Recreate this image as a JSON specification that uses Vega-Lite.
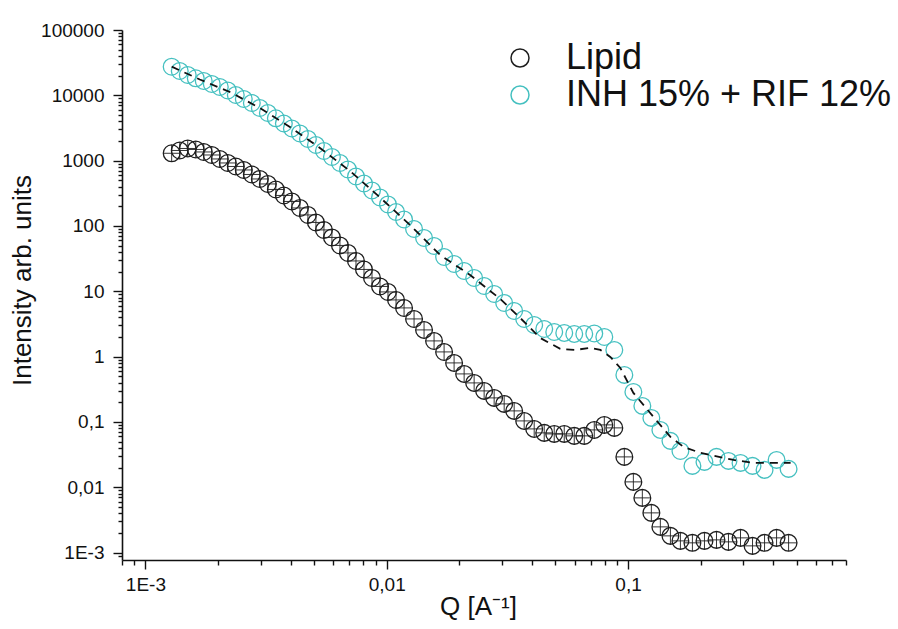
{
  "$schema": "https://vega.github.io/schema/vega-lite/v6.json",
  "width": 724,
  "height": 530,
  "autosize": {"type": "none"},
  "padding": {"left": 122, "top": 30, "right": 52, "bottom": 69},
  "background": "white",
  "config": {
    "view": {"stroke": null},
    "font": "Liberation Sans",
    "axis": {"domainColor": "#111", "domainWidth": 1.6, "tickColor": "#111", "tickWidth": 1.4, "grid": false, "labelColor": "#111", "titleColor": "#111", "labelFont": "Liberation Sans", "titleFont": "Liberation Sans", "titleFontWeight": "normal"}
  },
  "datasets": {
    "pts": [
      {"q":0.001285,"I":1297,"s":"Lipid"},{"q":0.001388,"I":1431,"s":"Lipid"},{"q":0.001498,"I":1536,"s":"Lipid"},{"q":0.001617,"I":1483,"s":"Lipid"},{"q":0.001745,"I":1358,"s":"Lipid"},{"q":0.001884,"I":1221,"s":"Lipid"},{"q":0.002034,"I":1061,"s":"Lipid"},{"q":0.002195,"I":921.5,"s":"Lipid"},{"q":0.002369,"I":814.6,"s":"Lipid"},{"q":0.002557,"I":720.2,"s":"Lipid"},{"q":0.002761,"I":614.4,"s":"Lipid"},{"q":0.00298,"I":524.3,"s":"Lipid"},{"q":0.003217,"I":439.7,"s":"Lipid"},{"q":0.003472,"I":362.2,"s":"Lipid"},{"q":0.003748,"I":293.2,"s":"Lipid"},{"q":0.004046,"I":237.3,"s":"Lipid"},{"q":0.004368,"I":188.7,"s":"Lipid"},{"q":0.004715,"I":147.5,"s":"Lipid"},{"q":0.005089,"I":113.2,"s":"Lipid"},{"q":0.005494,"I":86.95,"s":"Lipid"},{"q":0.005929,"I":66.73,"s":"Lipid"},{"q":0.0064,"I":50.33,"s":"Lipid"},{"q":0.006909,"I":38.65,"s":"Lipid"},{"q":0.007458,"I":29.15,"s":"Lipid"},{"q":0.00805,"I":21.61,"s":"Lipid"},{"q":0.00869,"I":16.01,"s":"Lipid"},{"q":0.00938,"I":11.87,"s":"Lipid"},{"q":0.01012,"I":9.777,"s":"Lipid"},{"q":0.01093,"I":7.377,"s":"Lipid"},{"q":0.0118,"I":5.565,"s":"Lipid"},{"q":0.01298,"I":3.776,"s":"Lipid"},{"q":0.01428,"I":2.563,"s":"Lipid"},{"q":0.01571,"I":1.739,"s":"Lipid"},{"q":0.01729,"I":1.18,"s":"Lipid"},{"q":0.01902,"I":0.801,"s":"Lipid"},{"q":0.02093,"I":0.5435,"s":"Lipid"},{"q":0.02303,"I":0.3957,"s":"Lipid"},{"q":0.02533,"I":0.2987,"s":"Lipid"},{"q":0.02787,"I":0.2333,"s":"Lipid"},{"q":0.03067,"I":0.1889,"s":"Lipid"},{"q":0.03374,"I":0.1476,"s":"Lipid"},{"q":0.03712,"I":0.1037,"s":"Lipid"},{"q":0.04084,"I":0.0782,"s":"Lipid"},{"q":0.04494,"I":0.068,"s":"Lipid"},{"q":0.04944,"I":0.0656,"s":"Lipid"},{"q":0.0544,"I":0.0656,"s":"Lipid"},{"q":0.05985,"I":0.0612,"s":"Lipid"},{"q":0.06585,"I":0.0612,"s":"Lipid"},{"q":0.07245,"I":0.0755,"s":"Lipid"},{"q":0.07972,"I":0.0901,"s":"Lipid"},{"q":0.08771,"I":0.0811,"s":"Lipid"},{"q":0.09652,"I":0.02917,"s":"Lipid"},{"q":0.1052,"I":0.01209,"s":"Lipid"},{"q":0.1146,"I":0.006879,"s":"Lipid"},{"q":0.1249,"I":0.004053,"s":"Lipid"},{"q":0.1361,"I":0.002475,"s":"Lipid"},{"q":0.1498,"I":0.001803,"s":"Lipid"},{"q":0.1648,"I":0.001511,"s":"Lipid"},{"q":0.1848,"I":0.001409,"s":"Lipid"},{"q":0.2073,"I":0.001511,"s":"Lipid"},{"q":0.2325,"I":0.001565,"s":"Lipid"},{"q":0.2607,"I":0.001459,"s":"Lipid"},{"q":0.2924,"I":0.00168,"s":"Lipid"},{"q":0.3279,"I":0.001267,"s":"Lipid"},{"q":0.3678,"I":0.001409,"s":"Lipid"},{"q":0.4125,"I":0.00168,"s":"Lipid"},{"q":0.4626,"I":0.001409,"s":"Lipid"},
      {"q":0.001285,"I":27440,"s":"INH 15% + RIF 12%"},{"q":0.001388,"I":23580,"s":"INH 15% + RIF 12%"},{"q":0.001498,"I":20480,"s":"INH 15% + RIF 12%"},{"q":0.001617,"I":18230,"s":"INH 15% + RIF 12%"},{"q":0.001745,"I":16580,"s":"INH 15% + RIF 12%"},{"q":0.001884,"I":14910,"s":"INH 15% + RIF 12%"},{"q":0.002034,"I":13420,"s":"INH 15% + RIF 12%"},{"q":0.002195,"I":11860,"s":"INH 15% + RIF 12%"},{"q":0.002369,"I":10120,"s":"INH 15% + RIF 12%"},{"q":0.002557,"I":8790,"s":"INH 15% + RIF 12%"},{"q":0.002761,"I":7635,"s":"INH 15% + RIF 12%"},{"q":0.00298,"I":6401,"s":"INH 15% + RIF 12%"},{"q":0.003217,"I":5366,"s":"INH 15% + RIF 12%"},{"q":0.003472,"I":4453,"s":"INH 15% + RIF 12%"},{"q":0.003748,"I":3707,"s":"INH 15% + RIF 12%"},{"q":0.004046,"I":3108,"s":"INH 15% + RIF 12%"},{"q":0.004368,"I":2606,"s":"INH 15% + RIF 12%"},{"q":0.004715,"I":2147,"s":"INH 15% + RIF 12%"},{"q":0.005089,"I":1738,"s":"INH 15% + RIF 12%"},{"q":0.005494,"I":1407,"s":"INH 15% + RIF 12%"},{"q":0.005929,"I":1138,"s":"INH 15% + RIF 12%"},{"q":0.0064,"I":921.5,"s":"INH 15% + RIF 12%"},{"q":0.006909,"I":732.8,"s":"INH 15% + RIF 12%"},{"q":0.007458,"I":572.8,"s":"INH 15% + RIF 12%"},{"q":0.00805,"I":447.5,"s":"INH 15% + RIF 12%"},{"q":0.00869,"I":349.6,"s":"INH 15% + RIF 12%"},{"q":0.00938,"I":273.3,"s":"INH 15% + RIF 12%"},{"q":0.01012,"I":213.4,"s":"INH 15% + RIF 12%"},{"q":0.01093,"I":163.9,"s":"INH 15% + RIF 12%"},{"q":0.0118,"I":125.8,"s":"INH 15% + RIF 12%"},{"q":0.01298,"I":90.03,"s":"INH 15% + RIF 12%"},{"q":0.01428,"I":65.58,"s":"INH 15% + RIF 12%"},{"q":0.01571,"I":49.45,"s":"INH 15% + RIF 12%"},{"q":0.01729,"I":33.57,"s":"INH 15% + RIF 12%"},{"q":0.01902,"I":26.22,"s":"INH 15% + RIF 12%"},{"q":0.02093,"I":20.49,"s":"INH 15% + RIF 12%"},{"q":0.02303,"I":16.01,"s":"INH 15% + RIF 12%"},{"q":0.02533,"I":12.08,"s":"INH 15% + RIF 12%"},{"q":0.02787,"I":9.112,"s":"INH 15% + RIF 12%"},{"q":0.03067,"I":6.636,"s":"INH 15% + RIF 12%"},{"q":0.03374,"I":5.004,"s":"INH 15% + RIF 12%"},{"q":0.03712,"I":3.776,"s":"INH 15% + RIF 12%"},{"q":0.04084,"I":3.056,"s":"INH 15% + RIF 12%"},{"q":0.04494,"I":2.654,"s":"INH 15% + RIF 12%"},{"q":0.04944,"I":2.388,"s":"INH 15% + RIF 12%"},{"q":0.0544,"I":2.306,"s":"INH 15% + RIF 12%"},{"q":0.05985,"I":2.226,"s":"INH 15% + RIF 12%"},{"q":0.06585,"I":2.226,"s":"INH 15% + RIF 12%"},{"q":0.07245,"I":2.265,"s":"INH 15% + RIF 12%"},{"q":0.07972,"I":2.002,"s":"INH 15% + RIF 12%"},{"q":0.08771,"I":1.266,"s":"INH 15% + RIF 12%"},{"q":0.09652,"I":0.5248,"s":"INH 15% + RIF 12%"},{"q":0.1052,"I":0.2882,"s":"INH 15% + RIF 12%"},{"q":0.1146,"I":0.176,"s":"INH 15% + RIF 12%"},{"q":0.1249,"I":0.1153,"s":"INH 15% + RIF 12%"},{"q":0.1361,"I":0.0755,"s":"INH 15% + RIF 12%"},{"q":0.1498,"I":0.0513,"s":"INH 15% + RIF 12%"},{"q":0.1648,"I":0.036,"s":"INH 15% + RIF 12%"},{"q":0.1848,"I":0.02124,"s":"INH 15% + RIF 12%"},{"q":0.2073,"I":0.02445,"s":"INH 15% + RIF 12%"},{"q":0.2325,"I":0.02917,"s":"INH 15% + RIF 12%"},{"q":0.2607,"I":0.02533,"s":"INH 15% + RIF 12%"},{"q":0.2924,"I":0.0236,"s":"INH 15% + RIF 12%"},{"q":0.3279,"I":0.02124,"s":"INH 15% + RIF 12%"},{"q":0.3678,"I":0.01845,"s":"INH 15% + RIF 12%"},{"q":0.4125,"I":0.02624,"s":"INH 15% + RIF 12%"},{"q":0.4626,"I":0.01911,"s":"INH 15% + RIF 12%"}
    ],
    "fit": [
      {"q":0.001285,"I":27440},{"q":0.00168,"I":17480},{"q":0.002238,"I":11250},{"q":0.00298,"I":6401},{"q":0.00397,"I":3278},{"q":0.005287,"I":1564},{"q":0.007042,"I":695.2},{"q":0.00938,"I":273.3},{"q":0.01249,"I":103.6},{"q":0.01664,"I":36.02},{"q":0.02216,"I":17.8},{"q":0.02952,"I":7.64},{"q":0.03573,"I":3.911},{"q":0.04325,"I":1.933},{"q":0.05236,"I":1.312},{"q":0.06043,"I":1.266},{"q":0.06977,"I":1.359},{"q":0.07675,"I":1.266},{"q":0.08443,"I":0.9895},{"q":0.0929,"I":0.6716},{"q":0.1052,"I":0.2782},{"q":0.1274,"I":0.1195},{"q":0.1498,"I":0.059},{"q":0.1697,"I":0.0415},{"q":0.1995,"I":0.03358},{"q":0.2735,"I":0.02624},{"q":0.3311,"I":0.0236},{"q":0.4716,"I":0.0236}
    ]
  },
  "layer": [
    {
      "data": {"name": "pts"},
      "mark": {"type": "point", "shape": "circle", "filled": false, "size": 280, "strokeWidth": 1.3, "opacity": 1},
      "encoding": {
        "x": {"field": "q", "type": "quantitative",
          "scale": {"type": "log", "domain": [0.0008, 0.8], "nice": false},
          "axis": {
            "title": "Q [A⁻¹]", "titleFontSize": 26, "titleX": 356, "titleY": 46, "titleAlign": "center", "titleBaseline": "middle",
            "values": [0.0008,0.0009,0.001,0.002,0.003,0.004,0.005,0.006,0.007,0.008,0.009,0.01,0.02,0.03,0.04,0.05,0.06,0.07,0.08,0.09,0.1,0.2,0.3,0.4,0.5,0.6,0.7,0.8],
            "labelExpr": "datum.value == 0.001 ? '1E-3' : datum.value == 0.01 ? '0,01' : datum.value == 0.1 ? '0,1' : ''",
            "labelFontSize": 19, "labelPadding": 6, "labelFlush": false, "labelOverlap": false,
            "tickSize": {"condition": {"test": "abs(log(datum.value)/LN10 - round(log(datum.value)/LN10)) < 0.001", "value": 9}, "value": 5}
          }
        },
        "y": {"field": "I", "type": "quantitative",
          "scale": {"type": "log", "domain": [0.00077, 100000], "nice": false},
          "axis": {
            "title": "Intensity arb. units", "titleFontSize": 26, "titleX": -100, "titleY": 250, "titleAngle": 270, "titleAlign": "center", "titleBaseline": "middle",
            "values": [0.0009,0.001,0.002,0.003,0.004,0.005,0.006,0.007,0.008,0.009,0.01,0.02,0.03,0.04,0.05,0.06,0.07,0.08,0.09,0.1,0.2,0.3,0.4,0.5,0.6,0.7,0.8,0.9,1,2,3,4,5,6,7,8,9,10,20,30,40,50,60,70,80,90,100,200,300,400,500,600,700,800,900,1000,2000,3000,4000,5000,6000,7000,8000,9000,10000,20000,30000,40000,50000,60000,70000,80000,90000,100000],
            "labelExpr": "datum.value == 100000 ? '100000' : datum.value == 10000 ? '10000' : datum.value == 1000 ? '1000' : datum.value == 100 ? '100' : datum.value == 10 ? '10' : datum.value == 1 ? '1' : datum.value == 0.1 ? '0,1' : datum.value == 0.01 ? '0,01' : datum.value == 0.001 ? '1E-3' : ''",
            "labelFontSize": 19, "labelPadding": 9, "labelFlush": false, "labelOverlap": false,
            "tickSize": {"condition": {"test": "abs(log(datum.value)/LN10 - round(log(datum.value)/LN10)) < 0.001", "value": 9}, "value": 4}
          }
        },
        "color": {"field": "s", "type": "nominal",
          "scale": {"domain": ["Lipid", "INH 15% + RIF 12%"], "range": ["#1e1e1e", "#45c0c0"]},
          "legend": {"title": null, "orient": "none", "legendX": 380, "legendY": 10, "padding": 0,
            "symbolType": "circle", "symbolSize": 324, "symbolStrokeWidth": 1.5, "symbolFillColor": "transparent",
            "labelFontSize": 36, "labelFont": "Liberation Sans", "labelColor": "#111", "labelOffset": 28, "rowPadding": 1, "labelLimit": 500}
        }
      }
    },
    {
      "data": {"name": "pts"},
      "transform": [{"filter": "datum.s == 'Lipid'"}],
      "mark": {"type": "point", "shape": "M-1,0H1M0,-1V1", "filled": false, "size": 280, "strokeWidth": 0.9, "color": "#1e1e1e", "opacity": 1},
      "encoding": {
        "x": {"field": "q", "type": "quantitative"},
        "y": {"field": "I", "type": "quantitative"}
      }
    },
    {
      "data": {"name": "fit"},
      "mark": {"type": "line", "color": "#111", "strokeWidth": 1.8, "strokeDash": [8, 6]},
      "encoding": {
        "x": {"field": "q", "type": "quantitative"},
        "y": {"field": "I", "type": "quantitative"}
      }
    }
  ]
}
